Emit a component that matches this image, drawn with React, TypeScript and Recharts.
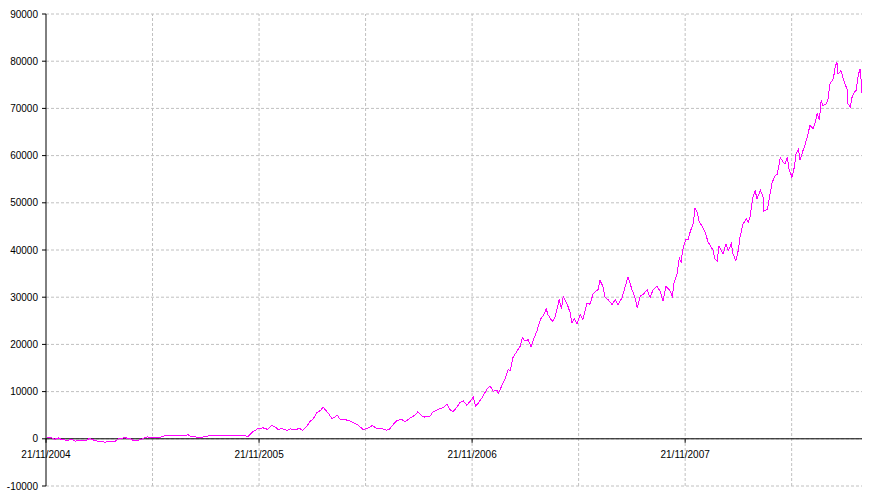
import React from "react"
import { LineChart, Line, XAxis, YAxis, CartesianGrid, ReferenceLine, ReferenceDot } from "recharts"

// days since 21/11/2004 and the running total
const days = [
  2, 10, 15, 21, 27, 36, 45, 50, 58, 69, 75, 84, 93, 101, 110, 118, 125, 135, 144, 149,
  159, 165, 173, 178, 187, 195, 202, 212, 221, 230, 238, 243, 248, 255, 264, 271, 278, 290, 302, 315,
  327, 332, 339, 346, 350, 355, 360, 363, 372, 380, 387, 392, 398, 404, 413, 418, 427, 435, 440, 447,
  452, 458, 464, 470, 475, 478, 483, 490, 495, 499, 504, 512, 521, 530, 535, 543, 550, 559, 567, 576,
  584, 589, 595, 601, 610, 615, 624, 632, 637, 644, 649, 658, 663, 675, 680, 687, 692, 697, 704, 709,
  715, 721, 727, 732, 736, 740, 747, 756, 761, 766, 773, 775, 781, 787, 792, 795, 800, 807, 812, 816,
  821, 826, 831, 835, 841, 847, 852, 857, 860, 867, 871, 876, 879, 883, 886, 893, 898, 901, 905, 910,
  915, 920, 927, 932, 937, 942, 946, 949, 954, 958, 963, 970, 975, 980, 987, 992, 997, 1004, 1009, 1013,
  1018, 1023, 1030, 1035, 1040, 1047, 1052, 1057, 1062, 1068, 1073, 1076, 1081, 1085, 1088, 1091, 1096, 1100, 1103, 1109,
  1112, 1116, 1119, 1126, 1129, 1134, 1138, 1143, 1146, 1150, 1153, 1160, 1165, 1169, 1174, 1177, 1182, 1186, 1189, 1194,
  1200, 1203, 1206, 1210, 1211, 1215, 1218, 1224, 1229, 1230, 1236, 1239, 1244, 1249, 1253, 1258, 1263, 1266, 1270, 1273,
  1278, 1282, 1285, 1289, 1292, 1297, 1301, 1304, 1309, 1314, 1318, 1321, 1325, 1328, 1331, 1337, 1340, 1343, 1349, 1352,
  1355, 1357, 1362, 1366, 1369, 1373, 1374, 1378, 1381, 1385, 1388, 1392, 1395, 1398,
]

const profit = [
  200, 200, -100, 200, -200, -300, -200, -500, -300, -300, 100, -400, -600, -700, -600, -600, 100, 200, 100, -300,
  -300, 0, 400, 300, 200, 300, 600, 600, 600, 600, 600, 900, 500, 400, 300, 400, 600, 600, 600, 600,
  600, 800, 700, 500, 910, 1600, 1900, 2180, 2320, 1970, 2880, 2540, 1970, 2180, 1760, 2110, 1970, 2180, 1760, 2670,
  3600, 4300, 5500, 5990, 6700, 6200, 5500, 4300, 4600, 5000, 4100, 4100, 3740, 3170, 2880, 1970, 2180, 2810, 2110, 2110,
  1830, 2110, 3030, 3880, 4100, 3530, 4450, 5000, 5700, 4800, 4600, 4800, 5700, 6420, 6560, 7400, 6200, 5700, 6700, 7630,
  8000, 7100, 8000, 8830, 6960, 7450, 8690, 10600, 11160, 10100, 10300, 9600, 11300, 12900, 14700, 14300, 17200, 18600, 19500, 21400,
  20700, 21000, 19500, 21000, 22800, 25300, 26100, 27500, 26300, 24900, 25400, 27700, 29500, 27500, 30100, 28500, 26700, 24600, 25400, 24400,
  26300, 25300, 28800, 28500, 30600, 31300, 31600, 33600, 32300, 29900, 29500, 28400, 29500, 28400, 29900, 32100, 34300, 31600, 29900, 27800,
  30200, 30600, 31600, 29900, 31600, 32300, 31300, 29200, 32300, 31600, 30200, 33000, 34800, 38300, 37400, 40100, 42200, 42200, 43600, 45700,
  48900, 47800, 46100, 44600, 43900, 41800, 40900, 39900, 38100, 37700, 40900, 39200, 41300, 39900, 41300, 39200, 37700, 39900, 42700, 45500,
  46600, 45900, 46900, 50400, 51100, 52600, 50800, 52600, 51100, 48300, 48600, 50800, 54300, 55700, 56100, 59600, 58600, 58200, 59600, 57200,
  55400, 57500, 60400, 61400, 59000, 61100, 62500, 63900, 66400, 65700, 67100, 68900, 67500, 71700, 70600, 71000, 72100, 75200, 76300, 78800,
  79800, 77300, 78000, 76300, 75200, 73800, 71000, 70300, 72400, 73500, 73800, 77300, 78400, 73300,
]

const yearDays = [0, 365, 730, 1095]
const yearLabels = ["21/11/2004", "21/11/2005", "21/11/2006", "21/11/2007"]
const gridDays = [182.5, 365, 547.5, 730, 912.5, 1095, 1277.5]
const yTicks = [-10000, 0, 10000, 20000, 30000, 40000, 50000, 60000, 70000, 80000, 90000]

const data = days.map((d, i) => ({ day: d, value: profit[i] }))

const font = "'Liberation Sans', Arial, sans-serif"
const gridColor = "#c0c0c0"

const yearTick = (label: string) => (props: any) => (
  <g>
    <line x1={props.cx} y1={props.cy} x2={props.cx} y2={props.cy + 4} stroke="#000" />
    <text x={props.cx} y={props.cy + 19} textAnchor="middle" fontSize={10} fontFamily={font} fill="#000">
      {label}
    </text>
  </g>
)

export default function App() {
  return (
    <div style={{ position: "absolute", left: 0, top: 0, width: 895, height: 501, background: "#fff" }}>
      <LineChart width={895} height={501} data={data} margin={{ top: 14, right: 33, left: 0, bottom: 15 }}>
        <CartesianGrid stroke={gridColor} strokeDasharray="3 2" vertical={false} />
        <XAxis
          dataKey="day"
          type="number"
          domain={[0, 1398]}
          ticks={gridDays}
          tick={false}
          tickLine={false}
          axisLine={false}
          height={0}
        />
        <YAxis
          type="number"
          domain={[-10000, 90000]}
          ticks={yTicks}
          width={46}
          tickSize={4}
          tickMargin={4}
          axisLine={{ stroke: "#000" }}
          tickLine={{ stroke: "#000" }}
          tick={{ fontSize: 10, fontFamily: font, fill: "#000" }}
        />
        {gridDays.map((d) => (
          <ReferenceLine key={"g" + d} x={d} stroke={gridColor} strokeDasharray="3 2" />
        ))}
        <ReferenceLine y={0} stroke="#000" />
        {yearDays.map((d, i) => (
          <ReferenceDot key={d} x={d} y={0} shape={yearTick(yearLabels[i])} />
        ))}
        <Line
          type="linear"
          dataKey="value"
          stroke="#ff00ff"
          strokeWidth={1}
          dot={false}
          shapeRendering="crispEdges"
          isAnimationActive={false}
        />
      </LineChart>
    </div>
  )
}
